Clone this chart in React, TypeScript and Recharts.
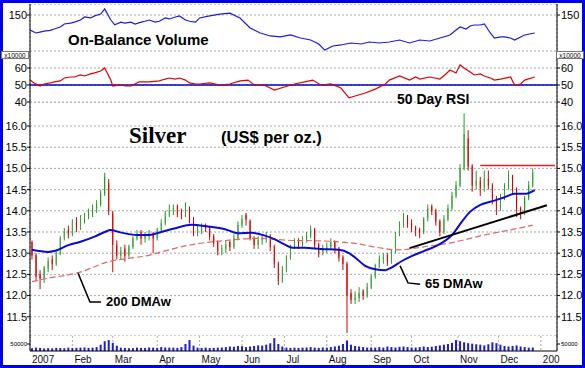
import { Bar, CartesianGrid, ComposedChart, Line, ReferenceLine, XAxis, YAxis } from 'recharts'

const W = 585
const H = 368
const FONT = "'Liberation Sans', Arial, sans-serif"
const X_DOMAIN = [-1, 260]

// trading-day index of each month start, and its label
const monthTicks = [-1, 20, 40, 62, 83, 104, 125, 146, 168, 188, 211, 231, 252]
const monthLabels = ['2007', 'Feb', 'Mar', 'Apr', 'May', 'Jun', 'Jul', 'Aug', 'Sep', 'Oct', 'Nov', 'Dec', '200']

// silver price, one candle per two trading days
const candleOpen = [
	13.25, 12.95, 12.5, 12.4, 12.65, 12.85, 12.75, 13.0, 13.35, 13.55,
	13.45, 13.75, 13.6, 13.8, 13.85, 13.95, 14.05, 14.15, 14.4, 14.65,
	13.95, 13.2, 12.95, 13.1, 12.95, 13.15, 13.35, 13.5, 13.35, 13.4,
	13.45, 13.35, 13.55, 13.7, 13.9, 14.0, 14.1, 13.95, 13.9, 14.05,
	13.8, 13.5, 13.55, 13.65, 13.6, 13.4, 13.25, 13.05, 13.1, 13.25,
	13.15, 13.35, 13.65, 13.9, 13.75, 13.35, 13.2, 13.3, 13.35, 13.4,
	13.15, 12.75, 12.35, 12.6, 12.9, 13.15, 13.3, 13.2, 13.3, 13.4,
	13.55, 13.2, 13.0, 13.1, 13.15, 13.25, 13.1, 12.9, 12.75, 12.05,
	11.9, 11.95, 12.1, 12.0, 12.2, 12.45, 12.7, 12.85, 12.95, 12.8,
	13.05, 13.45, 13.65, 13.85, 13.7, 13.6, 13.55, 13.5, 13.8, 14.1,
	14.0, 13.75, 13.5, 13.8, 14.05, 14.35, 14.6, 15.0, 15.7, 15.05,
	14.6, 14.7, 14.55, 14.75, 14.6, 14.3, 14.1, 14.3, 14.55, 14.8,
	14.5, 14.05, 13.95, 14.3, 14.6,
]
const candleHigh = [
	13.3, 13.0, 12.6, 12.7, 12.9, 12.95, 13.05, 13.4, 13.6, 13.65,
	13.8, 13.85, 13.9, 13.95, 14.05, 14.15, 14.25, 14.5, 14.9, 14.75,
	14.0, 13.3, 13.15, 13.2, 13.2, 13.4, 13.55, 13.55, 13.5, 13.55,
	13.5, 13.6, 13.8, 14.0, 14.15, 14.15, 14.15, 14.05, 14.2, 14.1,
	13.85, 13.65, 13.7, 13.7, 13.65, 13.45, 13.3, 13.2, 13.3, 13.3,
	13.45, 13.75, 13.9, 13.95, 13.8, 13.4, 13.4, 13.45, 13.5, 13.45,
	13.2, 12.8, 12.7, 12.95, 13.2, 13.35, 13.35, 13.4, 13.5, 13.65,
	13.6, 13.25, 13.2, 13.25, 13.35, 13.3, 13.15, 12.95, 12.8, 12.15,
	12.1, 12.2, 12.15, 12.3, 12.5, 12.75, 12.95, 13.0, 13.0, 13.1,
	13.5, 13.75, 13.95, 13.9, 13.8, 13.65, 13.6, 13.85, 14.15, 14.15,
	14.05, 13.8, 13.9, 14.15, 14.45, 14.7, 15.1, 16.3, 15.9, 15.1,
	14.95, 14.8, 14.95, 14.95, 14.65, 14.35, 14.4, 14.65, 14.95, 14.85,
	14.55, 14.1, 14.35, 14.7, 15.0,
]
const candleLow = [
	12.85, 12.35, 12.15, 12.3, 12.55, 12.6, 12.7, 12.95, 13.3, 13.35,
	13.4, 13.5, 13.55, 13.7, 13.8, 13.85, 13.95, 14.1, 14.35, 13.9,
	12.55, 12.85, 12.85, 12.8, 12.9, 13.1, 13.3, 13.2, 13.25, 13.3,
	13.0, 13.3, 13.5, 13.65, 13.85, 13.9, 13.85, 13.8, 13.85, 13.7,
	13.4, 13.4, 13.45, 13.5, 13.3, 13.15, 12.95, 12.95, 13.0, 13.05,
	13.1, 13.3, 13.6, 13.65, 13.3, 13.1, 13.1, 13.2, 13.25, 13.05,
	12.65, 12.25, 12.3, 12.55, 12.85, 13.1, 13.1, 13.15, 13.25, 13.35,
	13.1, 12.9, 12.95, 13.0, 13.1, 13.0, 12.8, 12.6, 11.12, 11.8,
	11.8, 11.85, 11.9, 11.95, 12.15, 12.4, 12.65, 12.75, 12.7, 12.75,
	13.0, 13.4, 13.6, 13.6, 13.5, 13.4, 13.35, 13.45, 13.75, 13.9,
	13.65, 13.4, 13.45, 13.75, 14.0, 14.3, 14.55, 14.95, 14.95, 14.45,
	14.5, 14.35, 14.45, 14.5, 14.15, 13.9, 14.0, 14.25, 14.5, 14.4,
	13.85, 13.8, 13.9, 14.25, 14.55,
]
const candleClose = [
	12.95, 12.45, 12.4, 12.65, 12.8, 12.75, 13.0, 13.35, 13.5, 13.45,
	13.75, 13.6, 13.8, 13.85, 13.95, 14.05, 14.15, 14.4, 14.8, 14.0,
	13.2, 12.95, 13.05, 12.95, 13.15, 13.35, 13.45, 13.35, 13.4, 13.45,
	13.35, 13.55, 13.7, 13.9, 14.0, 14.05, 13.95, 13.9, 14.1, 13.8,
	13.5, 13.55, 13.6, 13.6, 13.4, 13.25, 13.05, 13.1, 13.2, 13.15,
	13.35, 13.65, 13.8, 13.8, 13.35, 13.2, 13.3, 13.35, 13.4, 13.15,
	12.75, 12.35, 12.6, 12.9, 13.15, 13.25, 13.2, 13.3, 13.4, 13.55,
	13.2, 13.0, 13.1, 13.15, 13.25, 13.1, 12.9, 12.75, 12.0, 11.9,
	11.95, 12.05, 12.0, 12.2, 12.45, 12.7, 12.85, 12.9, 12.8, 13.05,
	13.45, 13.65, 13.85, 13.7, 13.6, 13.55, 13.5, 13.8, 14.05, 14.0,
	13.75, 13.5, 13.8, 14.05, 14.35, 14.6, 15.0, 15.8, 15.05, 14.6,
	14.7, 14.55, 14.75, 14.6, 14.3, 14.1, 14.3, 14.55, 14.8, 14.5,
	14.05, 13.95, 14.3, 14.6, 14.9,
]
// volume in thousands
const volumeK = [
	20, 24, 22, 18, 20, 19, 22, 21, 20, 24, 21, 22, 24, 25, 22, 24, 28,
	45, 70, 78, 58, 38,
	24, 22, 20, 20, 24, 22, 21, 25, 24, 22, 28, 25, 24, 24, 22, 28,
	50, 78, 38,
	24, 22, 24, 21, 22, 24, 25, 28, 32, 30, 36, 34, 28, 32, 36, 40, 38, 45, 55,
	92,
	50, 32, 24, 22, 24, 22, 24, 25, 28, 24, 22, 25, 24, 28, 32,
	38, 50, 75, 45, 36, 32, 28,
	24, 25, 24, 28, 24, 32, 28, 25, 30, 32, 28, 25, 24, 28, 32, 28, 30, 36,
	40, 45, 50, 58, 78, 70, 62, 56,
	52, 48, 45, 40, 48, 62, 56, 45, 36, 32, 36, 40, 32, 28, 24, 25,
]

// moving averages (day index, price)
const ma65Days = [0, 8, 11, 18, 24, 31, 36, 39, 43, 48, 53, 58, 64, 71, 79, 87, 96, 102, 109, 115, 120, 125, 129, 135, 143, 152, 157, 160, 165, 170, 175, 178, 183, 188, 194, 201, 208, 213, 217, 222, 229, 234, 239, 244, 249]
const ma65Values = [13.08, 13.03, 13.05, 13.19, 13.27, 13.39, 13.5, 13.55, 13.5, 13.45, 13.43, 13.43, 13.5, 13.59, 13.67, 13.63, 13.56, 13.47, 13.48, 13.42, 13.33, 13.21, 13.13, 13.13, 13.1, 13.08, 13.0, 12.9, 12.7, 12.62, 12.6, 12.66, 12.81, 12.93, 13.05, 13.19, 13.43, 13.75, 13.98, 14.14, 14.24, 14.32, 14.4, 14.4, 14.49]
const ma200Days = [0, 8, 23, 38, 48, 58, 64, 79, 96, 112, 129, 143, 160, 173, 181, 194, 208, 224, 241, 248]
const ma200Values = [12.33, 12.41, 12.54, 12.8, 12.88, 12.95, 13.03, 13.2, 13.3, 13.35, 13.3, 13.29, 13.23, 13.12, 13.08, 13.15, 13.25, 13.43, 13.59, 13.66]

// drawn lines: support trend, resistance, label leaders
const trendDays = [187, 255]
const trendValues = [13.12, 14.13]
const resistDays = [222, 259]
const resistValues = [15.07, 15.07]
const lead200Days = [22.8, 28.7, 34.2]
const lead200Values = [12.53, 11.85, 11.85]
const lead65Days = [182.3, 186.2, 192.2]
const lead65Values = [12.7, 12.3, 12.27]

// on-balance volume (x10000)
const obvDays = [-1, 2, 4, 6, 9, 11, 14, 16, 19, 21, 24, 26, 29, 31, 34, 36, 39, 41, 44, 46, 49, 51, 54, 56, 58, 61, 63, 66, 68, 71, 73, 76, 78, 81, 83, 88, 93, 98, 103, 108, 113, 118, 123, 128, 133, 138, 142, 145, 149, 153, 158, 163, 167, 172, 177, 182, 187, 192, 197, 202, 207, 210, 212, 215, 217, 219, 222, 224, 227, 229, 232, 234, 237, 239, 242, 244, 249]
const obvValues = [133.3, 130, 131, 132, 133, 134.4, 136.7, 140, 141, 142, 144.4, 147.8, 146.7, 149, 151, 156.7, 144.4, 139, 142, 141, 142, 140, 142, 143, 144.4, 142, 143, 146.7, 145.6, 147.8, 149, 144.4, 143, 142, 146.7, 149, 151, 152, 146.7, 135.6, 130, 126.7, 125.6, 127.8, 124.4, 122.2, 117.8, 111, 115.6, 116.7, 118.9, 117.8, 120, 118.9, 120, 122.2, 118.9, 122.2, 121.1, 124.4, 127.8, 133.3, 136.7, 134.4, 137.8, 138.9, 138.9, 140, 130, 124.4, 125.6, 125.6, 124.4, 122.2, 125.6, 127.8, 130]

// 50 day RSI
const rsiDays = [-1, 1, 4, 6, 9, 11, 14, 16, 19, 21, 24, 26, 29, 31, 34, 36, 39, 40, 44, 46, 49, 51, 53, 58, 63, 66, 68, 71, 73, 76, 78, 81, 83, 88, 93, 98, 103, 107, 110, 115, 120, 125, 130, 135, 139, 143, 148, 153, 157, 160, 165, 170, 175, 177, 182, 187, 190, 192, 197, 202, 205, 207, 210, 212, 214, 217, 219, 222, 224, 227, 229, 232, 237, 239, 242, 244, 249]
const rsiValues = [52.9, 51.2, 49.4, 50.6, 51.2, 51.8, 52.4, 54.1, 54.7, 54.7, 55.9, 55.3, 56.5, 57.1, 58.2, 60, 52.9, 49.4, 50, 49.4, 49.4, 50.6, 51.8, 51.8, 52.4, 53.5, 54.1, 53.5, 54.1, 52.9, 51.2, 50.6, 50.6, 51.2, 50, 50.6, 52.4, 52.9, 50, 50, 47, 48.8, 50.6, 51.8, 52.9, 50, 50.6, 48.2, 42.4, 43.5, 45.3, 47.6, 50.6, 52.9, 55.3, 52.9, 54.7, 53.5, 54.7, 53.5, 56.5, 58.8, 57.1, 61.8, 60, 57.6, 55.9, 56.5, 55.3, 54.1, 52.9, 53.5, 54.7, 50, 50.6, 52.9, 54.7]

const priceTicks = [11.5, 12, 12.5, 13, 13.5, 14, 14.5, 15, 15.5, 16]

const toRows = (days: number[], vals: number[]) => days.map((i, n) => ({ i, v: vals[n] }))

const candleData = candleClose.map((c, k) => ({
	i: k * 2,
	o: candleOpen[k],
	h: candleHigh[k],
	l: candleLow[k],
	c,
}))
const volumeData = volumeK.map((v, k) => ({ i: k * 2, v }))

const gridProps = {
	yAxisId: 'l',
	stroke: '#a9a9a9',
	strokeDasharray: '2 2',
}

// invisible x axis so every panel shares the month grid
const silentX = () => (
	<XAxis
		dataKey='i'
		type='number'
		domain={X_DOMAIN}
		ticks={monthTicks}
		interval={0}
		allowDataOverflow
		height={0}
		tick={false}
		axisLine={false}
		tickLine={false}
	/>
)

const sideAxes = (domain: number[], ticks: number[], fmt?: (v: number) => string, fontSize = 11) => [
	<YAxis
		key='l'
		yAxisId='l'
		orientation='left'
		width={30}
		domain={domain}
		ticks={ticks}
		interval={0}
		allowDataOverflow
		tickFormatter={fmt}
		axisLine={{ stroke: '#000' }}
		tickLine={{ stroke: '#000' }}
		tickSize={3}
		tickMargin={0}
		tick={{ fontSize, fill: '#000' }}
	/>,
	<YAxis
		key='r'
		yAxisId='r'
		orientation='right'
		width={28}
		domain={domain}
		ticks={ticks}
		interval={0}
		allowDataOverflow
		tickFormatter={fmt}
		axisLine={{ stroke: '#000' }}
		tickLine={{ stroke: '#000' }}
		tickSize={3}
		tickMargin={1}
		tick={{ fontSize, fill: '#000' }}
	/>,
]

const Candle = (props: any) => {
	const { x, y, width, height, payload } = props
	if (!payload) return null
	const { o, h, l, c } = payload
	const top = Math.min(y, y + height)
	const span = Math.abs(height)
	const py = (v: number) => top + ((h - v) / (h - l || 1)) * span
	const up = c >= o
	const stroke = up ? '#2b9a2b' : '#d80000'
	const fill = up ? '#9ede98' : '#ee1c1c'
	const b1 = py(Math.max(o, c))
	const b2 = py(Math.min(o, c))
	const cx = x + width / 2
	return (
		<g>
			<line x1={cx} x2={cx} y1={top} y2={top + span} stroke={stroke} strokeWidth={1} />
			<rect x={x} y={b1} width={width} height={Math.max(1, b2 - b1)} fill={fill} stroke={stroke} strokeWidth={0.6} />
		</g>
	)
}

const MonthTick = (props: any) => {
	const { x, y, payload } = props
	const n = monthTicks.indexOf(payload.value)
	return (
		<text x={x + 2} y={y + 12} fontSize={10} fill='#111' textAnchor='start'>
			{monthLabels[n]}
		</text>
	)
}

const lineBase = { yAxisId: 'l', dataKey: 'v', dot: false, isAnimationActive: false, activeDot: false } as const

export default function App() {
	const noMargin = { top: 0, right: 0, bottom: 0, left: 0 }
	return (
		<div style={{ position: 'absolute', left: 0, top: 0, width: W, height: H, background: '#fff', fontFamily: FONT, overflow: 'hidden' }}>
			{/* On-Balance Volume */}
			<div style={{ position: 'absolute', left: 0, top: 4 }}>
				<ComposedChart width={W} height={47} data={toRows(obvDays, obvValues)} margin={noMargin}>
					<CartesianGrid {...gridProps} />
					{silentX()}
					{sideAxes([110, 162.2], [150])}
					<Line {...lineBase} type='linear' stroke='#1a1ae6' strokeWidth={1.2} />
				</ComposedChart>
			</div>

			{/* RSI */}
			<div style={{ position: 'absolute', left: 0, top: 51 }}>
				<ComposedChart width={W} height={59} data={toRows(rsiDays, rsiValues)} margin={{ top: 0, right: 0, bottom: 8, left: 0 }}>
					<CartesianGrid {...gridProps} />
					{silentX()}
					{sideAxes([40, 70], [40, 50, 60])}
					<ReferenceLine yAxisId='l' y={50} stroke='#0000d0' strokeWidth={1.5} />
					<Line {...lineBase} type='linear' stroke='#e00000' strokeWidth={1.2} />
				</ComposedChart>
			</div>

			{/* Price */}
			<div style={{ position: 'absolute', left: 0, top: 102 }}>
				<ComposedChart width={W} height={234} data={candleData} margin={noMargin}>
					<CartesianGrid {...gridProps} />
					{silentX()}
					{sideAxes([11.047, 16.566], priceTicks, (v: number) => v.toFixed(1))}
					<Line {...lineBase} data={toRows(ma200Days, ma200Values)} type='monotone' stroke='#e06666' strokeWidth={1.2} strokeDasharray='6 3' />
					<Bar yAxisId='l' dataKey={(d: any) => [d.l, d.h]} barSize={3} shape={(p: any) => <Candle {...p} />} isAnimationActive={false} />
					<Line {...lineBase} data={toRows(ma65Days, ma65Values)} type='monotone' stroke='#0a0ad8' strokeWidth={2} />
					<Line {...lineBase} data={toRows(trendDays, trendValues)} type='linear' stroke='#000' strokeWidth={2} />
					<Line {...lineBase} data={toRows(resistDays, resistValues)} type='linear' stroke='#e02020' strokeWidth={1.5} />
					<Line {...lineBase} data={toRows(lead200Days, lead200Values)} type='linear' stroke='#000' strokeWidth={1.5} />
					<Line {...lineBase} data={toRows(lead65Days, lead65Values)} type='linear' stroke='#000' strokeWidth={1.5} />
				</ComposedChart>
			</div>

			{/* Volume + time axis */}
			<div style={{ position: 'absolute', left: 0, top: 336 }}>
				<ComposedChart width={W} height={33} data={volumeData} margin={noMargin}>
					<CartesianGrid {...gridProps} horizontal={false} />
					<XAxis
						dataKey='i'
						type='number'
						domain={X_DOMAIN}
						ticks={monthTicks}
						interval={0}
						allowDataOverflow
						height={18}
						axisLine={{ stroke: '#000' }}
						tickLine={false}
						tickSize={0}
						tickMargin={0}
						tick={<MonthTick />}
					/>
					{sideAxes([0, 107], [50], () => '50000', 6)}
					<Bar yAxisId='l' dataKey='v' barSize={2} fill='#1c1cd8' isAnimationActive={false} />
				</ComposedChart>
			</div>

			{/* frame */}
			<div style={{ position: 'absolute', left: 0, top: 0, width: W, height: H, boxSizing: 'border-box', border: '3px solid #0000ee', pointerEvents: 'none' }} />

			{/* titles and labels */}
			<svg width={W} height={H} style={{ position: 'absolute', left: 0, top: 0, pointerEvents: 'none' }}>
				<text x={68} y={45} fontSize={15} fontWeight='bold' fill='#000'>On-Balance Volume</text>
				<text x={397} y={104} fontSize={14} fontWeight='bold' fill='#000'>50 Day RSI</text>
				<text x={129} y={143} fontSize={23} fontWeight='bold' fill='#000' fontFamily="'Liberation Serif', 'Times New Roman', serif">Silver</text>
				<text x={221} y={143} fontSize={16.5} fontWeight='bold' fill='#000'>(US$ per oz.)</text>
				<text x={106} y={306} fontSize={13} fontWeight='bold' fill='#000'>200 DMAw</text>
				<text x={425} y={288} fontSize={13} fontWeight='bold' fill='#000'>65 DMAw</text>
				<rect x={1.5} y={51.5} width={27} height={7} fill='#fff' stroke='#777' strokeWidth={1} />
				<text x={15} y={57.5} fontSize={6.5} textAnchor='middle' fill='#000'>x10000</text>
				<rect x={556.5} y={51.5} width={27} height={7} fill='#fff' stroke='#777' strokeWidth={1} />
				<text x={570} y={57.5} fontSize={6.5} textAnchor='middle' fill='#000'>x10000</text>
			</svg>
		</div>
	)
}
